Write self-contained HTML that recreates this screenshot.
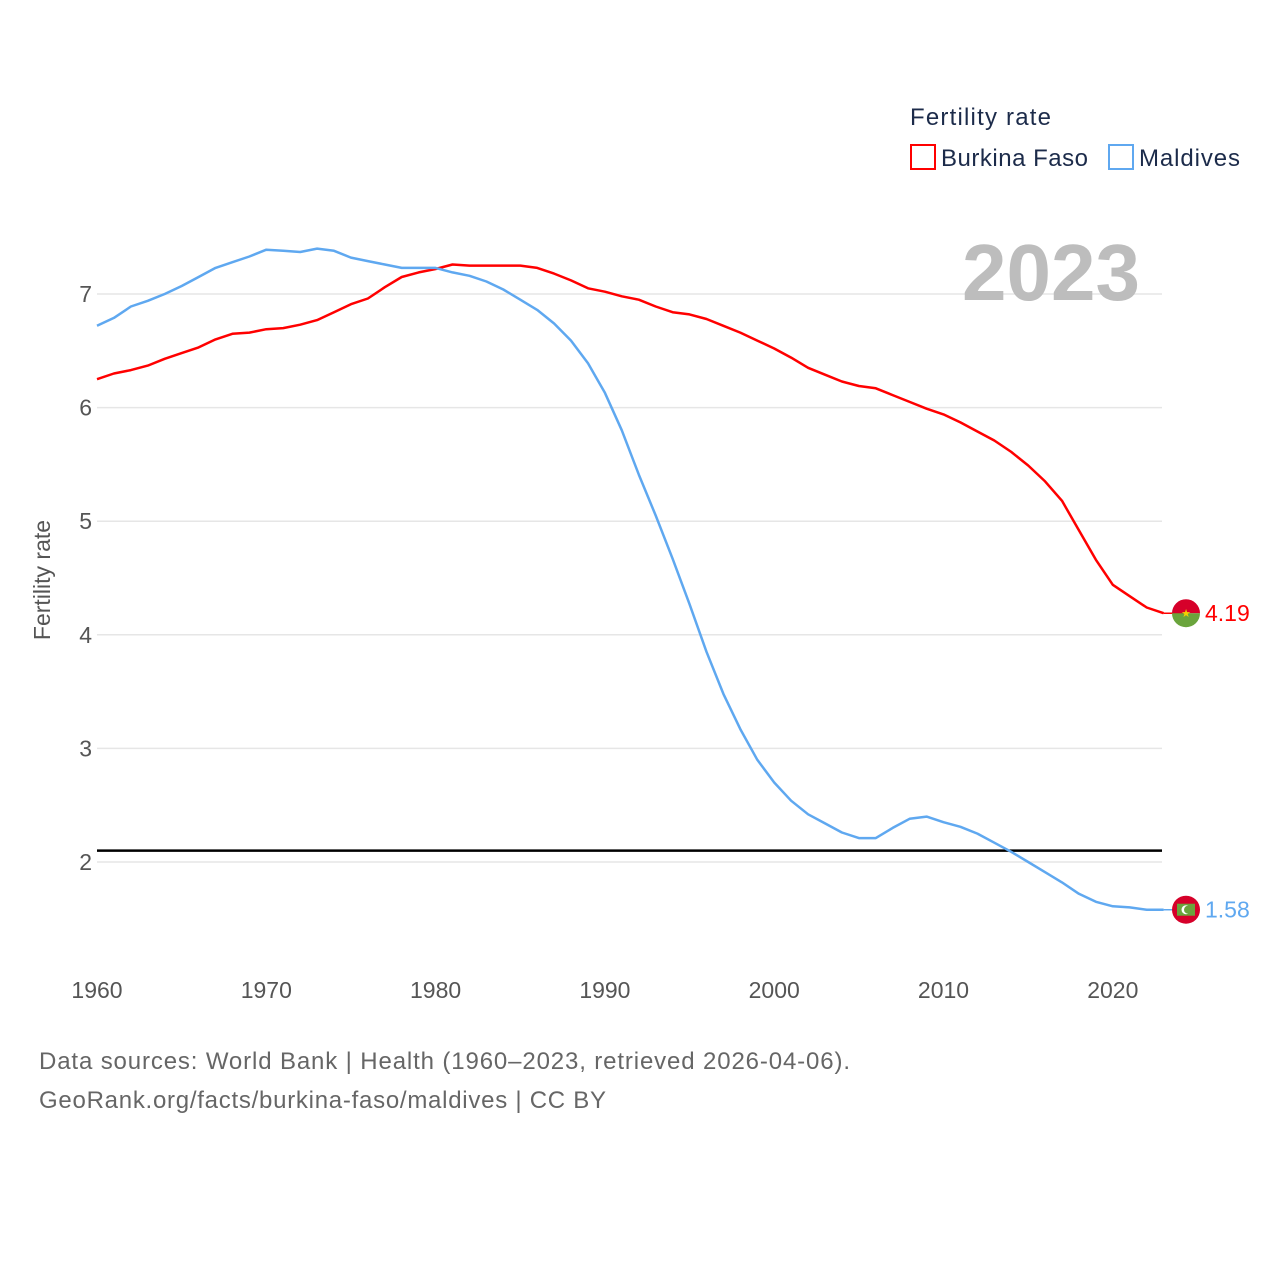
<!DOCTYPE html>
<html><head><meta charset="utf-8"><style>
body{margin:0;background:#fff;font-family:"Liberation Sans",sans-serif;}
svg text{font-family:"Liberation Sans",sans-serif;}
</style></head><body>
<svg width="1280" height="1280" viewBox="0 0 1280 1280">
<g id="grid"></g>
<g id="yticks"></g>
<g id="xticks"></g>
<text transform="translate(50,580) rotate(-90)" text-anchor="middle" font-size="23" fill="#555">Fertility rate</text>
<text x="1140" y="300" text-anchor="end" font-size="80" font-weight="bold" fill="#bdbdbd">2023</text>
<text x="910" y="125" font-size="24" fill="#1c2b4a" textLength="141">Fertility rate</text>
<g>
<rect x="911" y="145" width="24" height="24" fill="none" stroke="#ff0000" stroke-width="2"/>
<text x="941" y="166" font-size="24" fill="#1c2b4a" textLength="147">Burkina Faso</text></g>
<g>
<rect x="1109" y="145" width="24" height="24" fill="none" stroke="#5fa8f0" stroke-width="2"/>
<text x="1139" y="166" font-size="24" fill="#1c2b4a" textLength="101">Maldives</text></g>
<g id="series"></g>
<text x="39" y="1069" font-size="24" fill="#666" textLength="811">Data sources: World Bank | Health (1960–2023, retrieved 2026-04-06).</text>
<text x="39" y="1108" font-size="24" fill="#666" textLength="567">GeoRank.org/facts/burkina-faso/maldives | CC BY</text>
</svg>
<script>
const years=[];for(let y=1960;y<=2023;y++)years.push(y);
const burkina=[6.25,6.30,6.33,6.37,6.43,6.48,6.53,6.60,6.65,6.66,6.69,6.70,6.73,6.77,6.84,6.91,6.96,7.06,7.15,7.19,7.22,7.26,7.25,7.25,7.25,7.25,7.23,7.18,7.12,7.05,7.02,6.98,6.95,6.89,6.84,6.82,6.78,6.72,6.66,6.59,6.52,6.44,6.35,6.29,6.23,6.19,6.17,6.11,6.05,5.99,5.94,5.87,5.79,5.71,5.61,5.49,5.35,5.18,4.92,4.66,4.44,4.34,4.24,4.19];
const maldives=[6.72,6.79,6.89,6.94,7.00,7.07,7.15,7.23,7.28,7.33,7.39,7.38,7.37,7.40,7.38,7.32,7.29,7.26,7.23,7.23,7.23,7.19,7.16,7.11,7.04,6.95,6.86,6.74,6.59,6.39,6.13,5.80,5.41,5.05,4.67,4.27,3.85,3.48,3.17,2.90,2.70,2.54,2.42,2.34,2.26,2.21,2.21,2.30,2.38,2.40,2.35,2.31,2.25,2.17,2.09,2.00,1.91,1.82,1.72,1.65,1.61,1.60,1.58,1.58];
const yTicks=[2,3,4,5,6,7];
const xTicks=[1960,1970,1980,1990,2000,2010,2020];
const replacement=2.1;
const NS="http://www.w3.org/2000/svg";
const X=y=>97+(y-1960)*16.93;
const Y=v=>294+(7-v)*113.6;
function mk(t,a,p){const e=document.createElementNS(NS,t);for(const k in a)e.setAttribute(k,a[k]);p.appendChild(e);return e;}
const grid=document.getElementById('grid'),yt=document.getElementById('yticks'),xt=document.getElementById('xticks'),ser=document.getElementById('series');
yTicks.forEach(v=>{
 const l=mk('line',{x1:97,x2:1162,y1:Y(v),y2:Y(v),stroke:'#e6e6e6','stroke-width':1.5},grid);
 
 
 const t=mk('text',{x:92,y:Y(v)+8,'text-anchor':'end','font-size':23,fill:'#555'},yt);t.textContent=v;
 
 
});
xTicks.forEach(v=>{
 const t=mk('text',{x:X(v),y:998,'text-anchor':'middle','font-size':23,fill:'#555'},xt);t.textContent=v;
 
 
});
const rl=mk('line',{x1:97,x2:1162,y1:Y(replacement),y2:Y(replacement),stroke:'#000','stroke-width':2.5},ser);


function line(data,col,name){
 const d=data.map((v,i)=>(i?'L':'M')+X(years[i]).toFixed(1)+','+Y(v).toFixed(1)).join('');
 const p=mk('path',{d:d,fill:'none',stroke:col,'stroke-width':2.5,'stroke-linejoin':'round'},ser);
 
 
 const last=data[data.length-1],yy=Y(last);
 mk('line',{x1:X(2023),x2:1186,y1:yy,y2:yy,stroke:col,'stroke-width':1.5},ser);
 const lb=mk('text',{x:1205,y:yy+8,'font-size':23,fill:col},ser);lb.textContent=last.toFixed(2);
 
 
 return yy;
}
const by=line(burkina,'#ff0000','burkina-faso');
const my=line(maldives,'#5fa8f0','maldives');
const fb=mk('g',{},ser);


mk('path',{d:`M1172,${by} A14,14 0 0 1 1200,${by} Z`,fill:'#d6002a'},fb);
mk('path',{d:`M1172,${by} A14,14 0 0 0 1200,${by} Z`,fill:'#6aa43c'},fb);
const st=mk('text',{x:1186,y:by+4,'text-anchor':'middle','font-size':11,fill:'#f5d000'},fb);st.textContent='★';
const fm=mk('g',{},ser);


mk('circle',{cx:1186,cy:my,r:14,fill:'#d6002a'},fm);
mk('rect',{x:1177,y:my-6,width:18,height:12,fill:'#6aa43c'},fm);
mk('circle',{cx:1186,cy:my,r:4.5,fill:'#fff'},fm);
mk('circle',{cx:1188,cy:my,r:4,fill:'#6aa43c'},fm);
</script>
</body></html>
